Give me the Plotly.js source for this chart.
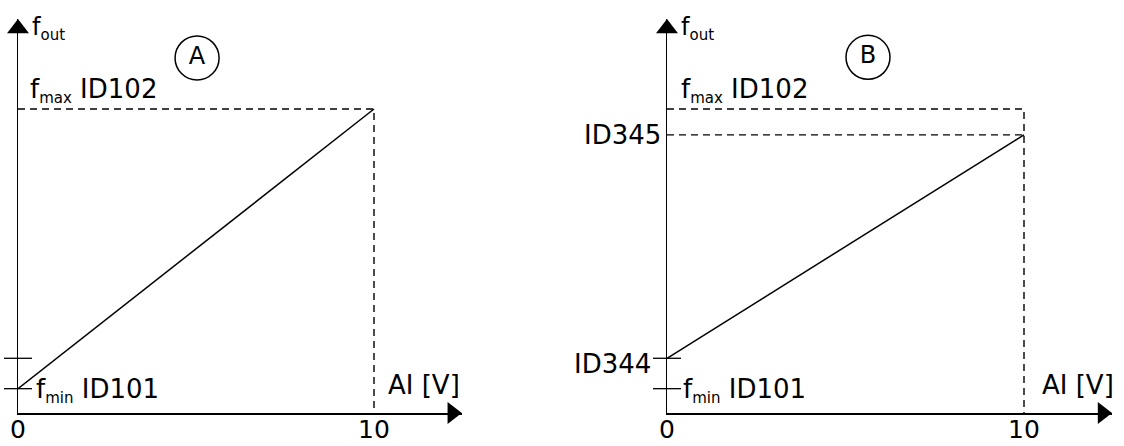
<!DOCTYPE html>
<html><head><meta charset="utf-8">
<script src="https://cdn.plot.ly/plotly-3.0.1.min.js"></script>
<style>html,body{margin:0;padding:0;background:#fff;}#chart{width:1124px;height:446px;}</style>
</head><body><div id="chart"></div>
<script>
// ---- data ----
const aiVolts = [0, 10];               // AI [V] span
const foutA = [8, 100];                // panel A: f_min (ID101) -> f_max (ID102)
const foutB = [18, 91.5];              // panel B: ID344 -> ID345
const fMin = 8, fMax = 100;            // ID101, ID102
const id344 = 18, id345 = 91.5;
const xTickVals = [0, 10];
const xTickText = ['0', '10'];
const panelLabels = ['A', 'B'];
const yTickLevelsA = [fMin, id344];
const yTickLevelsB = [fMin, id344];

// ---- styling / layout constants ----
const FONT = 'DejaVu Sans, Verdana, sans-serif';
const BLACK = '#000';
const DASH = {color: '#000', width: 1.4, dash: '7px,5px'};
const arrowX = 12.2, arrowY = 126.5;
const W = 1124, H = 446;
const yDom = [33 / H, 427 / H];
const yRange = [0, 129.6];

function sub(t) { return '<sub><span style="font-size:15px">' + t + '</span></sub>'; }

function panelTraces(xa, ya, fout, dashedSets, tickLevels, label, labelPos) {
  const t = [];
  dashedSets.forEach(d => t.push({x: d.x, y: d.y, xaxis: xa, yaxis: ya, mode: 'lines', line: DASH, hoverinfo: 'skip', cliponaxis: false}));
  t.push({x: aiVolts, y: fout, xaxis: xa, yaxis: ya, mode: 'lines', line: {color: BLACK, width: 1.5}, cliponaxis: false});
  t.push({x: tickLevels.map(() => 0), y: tickLevels, xaxis: xa, yaxis: ya, mode: 'markers', cliponaxis: false,
          marker: {symbol: 'line-ew', size: 20, line: {color: BLACK, width: 1.3}}});
  t.push({x: [0], y: [arrowY], xaxis: xa, yaxis: ya, mode: 'markers', cliponaxis: false,
          marker: {symbol: 'triangle-up', size: 19, color: BLACK, line: {width: 0}}});
  t.push({x: [arrowX], y: [0], xaxis: xa, yaxis: ya, mode: 'markers', cliponaxis: false,
          marker: {symbol: 'triangle-right', size: 19, color: BLACK, line: {width: 0}}});
  t.push({x: [labelPos[0]], y: [labelPos[1]], xaxis: xa, yaxis: ya, mode: 'markers+text', cliponaxis: false,
          text: [label], textposition: 'middle center', textfont: {family: FONT, size: 24, color: BLACK},
          marker: {symbol: 'circle-open', size: 44, color: BLACK, line: {color: BLACK, width: 1.5}}});
  return t;
}

const traces = [].concat(
  panelTraces('x', 'y', foutA,
    [{x: [aiVolts[0], aiVolts[1], aiVolts[1]], y: [fMax, fMax, 0]}],
    yTickLevelsA, panelLabels[0], [5.03, 116.8]),
  panelTraces('x2', 'y2', foutB,
    [{x: [aiVolts[0], aiVolts[1], aiVolts[1]], y: [fMax, fMax, 0]},
     {x: [aiVolts[0], aiVolts[1]], y: [id345, id345]}],
    yTickLevelsB, panelLabels[1], [5.63, 117.0])
);

function xAxis(dom, range, anchor) {
  return {domain: dom, range: range, anchor: anchor, showline: true, linecolor: BLACK, linewidth: 1.5,
          showgrid: false, zeroline: false, ticks: '', showticklabels: false, fixedrange: true};
}
function yAxis(anchor) {
  return {domain: yDom, range: yRange, anchor: anchor, showline: true, linecolor: BLACK, linewidth: 1.5,
          showgrid: false, zeroline: false, showticklabels: false, ticks: '', fixedrange: true};
}

function ann(xr, yr, x, y, text, xanchor, yanchor, xshift, yshift, size) {
  return {xref: xr, yref: yr, x: x, y: y, text: text, showarrow: false, xanchor: xanchor, yanchor: yanchor,
          xshift: xshift, yshift: yshift, font: {family: FONT, size: size || 26, color: BLACK}};
}

const annotations = [
  ann('x', 'y', 0, arrowY, 'f' + sub('out'), 'left', 'middle', 12, 0, 24),
  ann('x', 'y', 0, fMax, 'f' + sub('max') + ' ID102', 'left', 'bottom', 10, 0),
  ann('x', 'y', 0, fMin, 'f' + sub('min') + ' ID101', 'left', 'middle', 16, -2),
  ann('x', 'y', aiVolts[1], 0, 'AI [V]', 'left', 'bottom', 12, 11),
  ann('x2', 'y2', 0, arrowY, 'f' + sub('out'), 'left', 'middle', 12, 0, 24),
  ann('x2', 'y2', 0, fMax, 'f' + sub('max') + ' ID102', 'left', 'bottom', 12, 0),
  ann('x2', 'y2', 0, fMin, 'f' + sub('min') + ' ID101', 'left', 'middle', 14, -2),
  ann('x2', 'y2', 0, id345, 'ID345', 'right', 'middle', -4, 0),
  ann('x2', 'y2', 0, id344, 'ID344', 'right', 'middle', -14, -6),
  ann('x2', 'y2', aiVolts[1], 0, 'AI [V]', 'left', 'bottom', 16, 11)
];
['x', 'x2'].forEach((xr, i) => {
  const yr = i === 0 ? 'y' : 'y2';
  xTickVals.forEach((v, k) => annotations.push(ann(xr, yr, v, 0, xTickText[k], 'center', 'top', 0, 0, 25)));
});

const layout = {
  width: W, height: H, margin: {l: 0, r: 0, t: 0, b: 0},
  paper_bgcolor: '#fff', plot_bgcolor: 'rgba(0,0,0,0)', showlegend: false,
  font: {family: FONT, color: BLACK},
  xaxis: xAxis([18 / W, 462 / W], [0, 444 / 35.6], 'y'),
  yaxis: yAxis('x'),
  xaxis2: xAxis([667 / W, 1112 / W], [0, 445 / 35.7], 'y2'),
  yaxis2: yAxis('x2'),
  annotations: annotations
};

Plotly.newPlot('chart', traces, layout, {staticPlot: true, displayModeBar: false});
</script></body></html>
